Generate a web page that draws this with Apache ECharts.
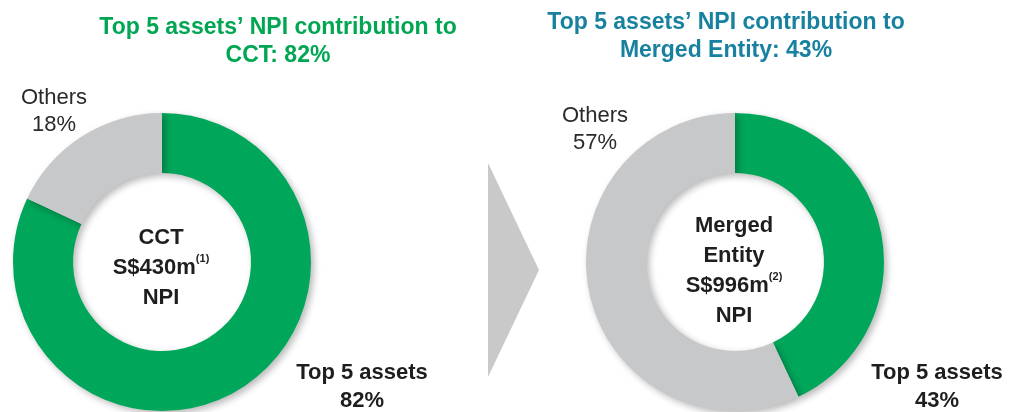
<!DOCTYPE html>
<html>
<head>
<meta charset="utf-8">
<script src="https://cdn.jsdelivr.net/npm/echarts@6/dist/echarts.min.js"></script>
<style>
  html, body { margin: 0; padding: 0; background: #fff; }
  #chart { width: 1012px; height: 412px; }
</style>
</head>
<body>
<div id="chart"></div>
<script>
// NPI split, in %
var categories = ['Top 5 assets', 'Others'];
var cctShare = [82, 18];
var mergedShare = [43, 57];

var GREEN = '#00a65a';
var GREY = '#c7c8ca';
var FONT = '"Liberation Sans", Arial, sans-serif';

function pieData(values) {
    return categories.map(function (name, i) {
        return { name: name, value: values[i], itemStyle: { color: i === 0 ? GREEN : GREY } };
    });
}

// label spots: [top5, others]
function donut(center, values, spots) {
    return {
        type: 'pie',
        center: center,
        radius: [89, 149],
        startAngle: 90,
        clockwise: true,
        silent: true,
        animation: false,
        data: pieData(values),
        itemStyle: {
            shadowBlur: 7,
            shadowOffsetX: 3,
            shadowOffsetY: 3,
            shadowColor: 'rgba(0,0,0,0.28)'
        },
        label: {
            show: true,
            overflow: 'none',
            width: 200,
            formatter: function (p) {
                var s = p.dataIndex === 0 ? 'b' : 'n';
                return '{' + s + '|' + p.name + '}\n{' + s + '|' + p.value + '%}';
            },
            rich: {
                b: { fontFamily: FONT, fontSize: 22, fontWeight: 'bold', color: '#1e1e1e', lineHeight: 28 },
                n: { fontFamily: FONT, fontSize: 22, color: '#2a2a2a', lineHeight: 27 }
            },
            align: 'center'
        },
        labelLine: { show: false },
        labelLayout: function (params) {
            var s = spots[params.dataIndex];
            return { x: s[0], y: s[1], align: 'center', verticalAlign: 'middle' };
        }
    };
}

function centerText(x, y, lines) {
    return {
        type: 'text',
        x: x,
        y: y,
        style: {
            text: lines.join('\n'),
            align: 'center',
            verticalAlign: 'middle',
            rich: {
                c: { fontFamily: FONT, fontSize: 22, fontWeight: 'bold', fill: '#1e1e1e', lineHeight: 30 },
                sup: { fontFamily: FONT, fontSize: 11, fontWeight: 'bold', fill: '#1e1e1e', verticalAlign: 'top', lineHeight: 30, padding: [0, 0, 10, 0] }
            }
        }
    };
}

var myChart = echarts.init(document.getElementById('chart'));

var option = {
    backgroundColor: '#fff',
    title: [{
        text: 'Top 5 assets\u2019 NPI contribution to\nCCT: 82%',
        left: 273,
        top: 9,
        textAlign: 'center',
        textStyle: { fontFamily: FONT, fontSize: 23, fontWeight: 'bold', color: '#00a651', lineHeight: 28, align: 'center' }
    }, {
        text: 'Top 5 assets\u2019 NPI contribution to\nMerged Entity: 43%',
        left: 721,
        top: 4,
        textAlign: 'center',
        textStyle: { fontFamily: FONT, fontSize: 23, fontWeight: 'bold', color: '#17819f', lineHeight: 28, align: 'center' }
    }],
    graphic: [{
        type: 'polygon',
        shape: { points: [[488, 163], [539, 270], [488, 377]] },
        style: { fill: '#c9c9ca' }
    },
    centerText(161, 268, ['{c|CCT}', '{c|S$430m}{sup|(1)}', '{c|NPI}']),
    centerText(734, 271, ['{c|Merged}', '{c|Entity}', '{c|S$996m}{sup|(2)}', '{c|NPI}'])
    ],
    series: [
        donut([162, 262], cctShare, [[362, 387], [54, 111]]),
        donut([735, 262], mergedShare, [[937, 387], [595, 129]])
    ]
};

myChart.setOption(option);
</script>
</body>
</html>
